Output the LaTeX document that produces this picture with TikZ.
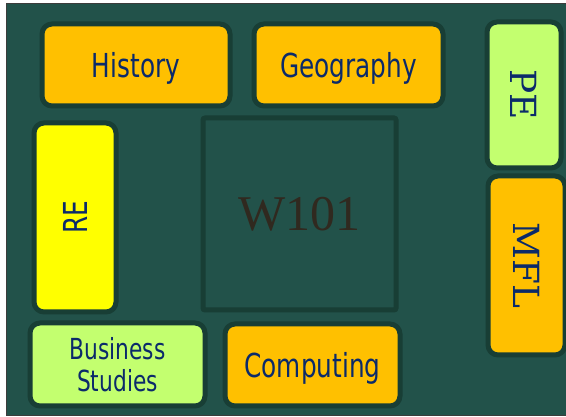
\documentclass[tikz,border=0pt]{standalone}
\usepackage{fontspec}
\setmainfont{DejaVu Sans}
\newfontfamily\labfont[FakeStretch=0.75]{DejaVu Sans}
\newfontfamily\serfont{DejaVu Serif}
\newfontfamily\bigser{Liberation Serif}
\definecolor{bg}{HTML}{22524A}
\definecolor{edge}{HTML}{183E35}
\definecolor{frame}{HTML}{3C3C3C}
\definecolor{orng}{HTML}{FFC000}
\definecolor{yel}{HTML}{FFFF00}
\definecolor{lgreen}{HTML}{C3FF6F}
\definecolor{navy}{HTML}{0B2A6A}
\definecolor{wtxt}{HTML}{30291F}
\tikzset{
  room/.style={draw=edge, line width=5pt, rounded corners=10pt, inner sep=0pt,
    text=navy, align=center},
  subjtext/.style={font=\labfont\fontsize{33}{35}\selectfont},
  sertext/.style={font=\serfont\fontsize{36}{38}\selectfont},
}
\begin{document}
\begin{tikzpicture}[x=1pt,y=-1pt]
\useasboundingbox (0,0) rectangle (566,417);
\fill[white] (0,0) rectangle (566,417);
\filldraw[fill=bg, draw=frame, line width=1.2pt] (6.5,3.5) rectangle (570,415.5);
\node[room, fill=orng, minimum width=188pt, minimum height=82pt] (history) at (136,65) {};
\node[subjtext, text=navy, text depth=0pt] (historytext) at (history.center) {History};
\node[room, fill=orng, minimum width=189pt, minimum height=82pt] (geo) at (348.5,65) {};
\node[subjtext, text=navy, text depth=0pt] (geotext) at (geo.center) {Geography};
\node[room, fill=lgreen, minimum width=74pt, minimum height=146pt] (pe) at (524,95) {};
\node[sertext, text=navy, rotate=-90] (petext) at (pe.center) {PE};
\node[room, fill=orng, minimum width=77pt, minimum height=179pt] (mfl) at (526.5,265.5) {};
\node[sertext, text=navy, rotate=-90] (mfltext) at (mfl.center) {MFL};
\node[room, fill=yel, minimum width=82pt, minimum height=189pt] (re) at (75,217.5) {};
\node[subjtext, text=navy, rotate=90] (retext) at (re.center) {RE};
\node[draw=edge, line width=5pt, rounded corners=2pt, minimum width=193pt, minimum height=192pt,
  inner sep=0pt, text=wtxt, font=\bigser\fontsize{50}{52}\selectfont] (w101) at (299.5,214) {W101};
\node[room, fill=lgreen, minimum width=175pt, minimum height=83pt] (bus) at (117.5,364.5) {};
\node[subjtext, text=navy, align=center, font=\labfont\fontsize{29}{32}\selectfont] (bustext) at (bus.center)
  {Business\\Studies};
\node[room, fill=orng, minimum width=175pt, minimum height=82pt] (comp) at (312.5,365) {};
\node[subjtext, text=navy, text depth=0pt] (comptext) at (comp.center) {Computing};
\end{tikzpicture}
\end{document}
